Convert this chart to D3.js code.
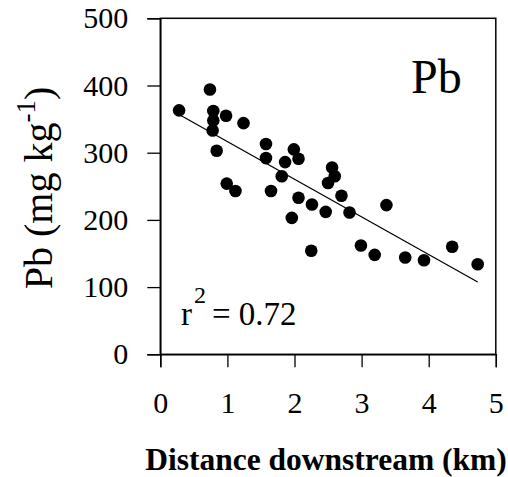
<!DOCTYPE html>
<html><head><meta charset="utf-8">
<script src="https://cdn.jsdelivr.net/npm/d3@7"></script>
<style>body{margin:0;background:#fff}svg{display:block}svg text{font-family:"Liberation Serif","Times New Roman",serif !important}</style>
</head><body>
<svg id="c" width="508" height="477"></svg>
<script>
const distance = [0.28,0.74,0.79,0.79,0.78,0.98,1.24,0.84,1.575,1.575,1.99,2.06,1.86,1.81,0.99,1.12,1.65,2.56,2.60,2.50,2.70,
                  2.06,2.26,2.465,2.82,1.96,3.37,2.25,2.99,3.195,3.65,3.93,4.35,4.73];
const pb = [363,394,362,348,333,355,344,303,313,292,305,291,286,265,254,243,243,278,265,255,236,
            233,223,212,211,203,222,154,162,148,144,140,160,134];
const xTicks = [0,1,2,3,4,5];
const yTicks = [0,100,200,300,400,500];
const trendX = [0.28,4.73];
const trendIntercept = 372.5, trendSlope = -56;

const svg = d3.select("#c");
const x = d3.scaleLinear().domain([0,5]).range([160.3,495.8]);
const y = d3.scaleLinear().domain([0,500]).range([354.3,18.3]);

// frame
svg.append("rect").attr("x",x(0)).attr("y",y(500)).attr("width",x(5)-x(0)).attr("height",y(0)-y(500))
  .attr("fill","none").attr("stroke","#000").attr("stroke-width",1.5);

const xa = svg.append("g").attr("transform",`translate(0,${y(0)})`)
  .call(d3.axisBottom(x).tickValues(xTicks).tickSize(13).tickPadding(28).tickFormat(d3.format("d")));
const ya = svg.append("g").attr("transform",`translate(${x(0)},0)`)
  .call(d3.axisLeft(y).tickValues(yTicks).tickSize(13).tickPadding(19).tickFormat(d3.format("d")));
[xa,ya].forEach(a=>{
  a.attr("font-family",null);
  a.select(".domain").attr("stroke","#000").attr("stroke-width",1.5);
  a.selectAll(".tick line").attr("stroke","#000").attr("stroke-width",1.3);
  a.selectAll(".tick text").attr("font-size",30).attr("fill","#000");
});
xa.selectAll(".tick text").attr("dy",0).attr("y",59);

// trend line
svg.append("line")
  .attr("x1",x(trendX[0])).attr("y1",y(trendIntercept+trendSlope*trendX[0]))
  .attr("x2",x(trendX[1])).attr("y2",y(trendIntercept+trendSlope*trendX[1]))
  .attr("stroke","#000").attr("stroke-width",1.3);

// points
svg.append("g").selectAll("circle").data(distance).join("circle")
  .attr("cx",d=>x(d)).attr("cy",(d,i)=>y(pb[i])).attr("r",6.3).attr("fill","#000");

// labels
svg.append("text").attr("x",411).attr("y",92.5).attr("font-size",48).text("Pb");

svg.append("text").attr("font-size",33).attr("x",181).attr("y",325).text("r");
svg.append("text").attr("font-size",24).attr("x",194).attr("y",303).text("2");
svg.append("text").attr("font-size",33).attr("x",212).attr("y",325).text("= 0.72");

// axis titles
svg.append("text").attr("x",326).attr("y",470).attr("text-anchor","middle")
  .attr("font-weight","bold").attr("font-size",31.5).text("Distance downstream (km)");

const yt = svg.append("text").attr("transform","translate(52,188) rotate(-90)").attr("text-anchor","middle")
  .attr("font-size",40);
yt.append("tspan").text("Pb (mg kg");
yt.append("tspan").attr("font-size",27).attr("dy",-17).text("-1");
yt.append("tspan").attr("dy",17).text(")");
</script>
</body></html>
